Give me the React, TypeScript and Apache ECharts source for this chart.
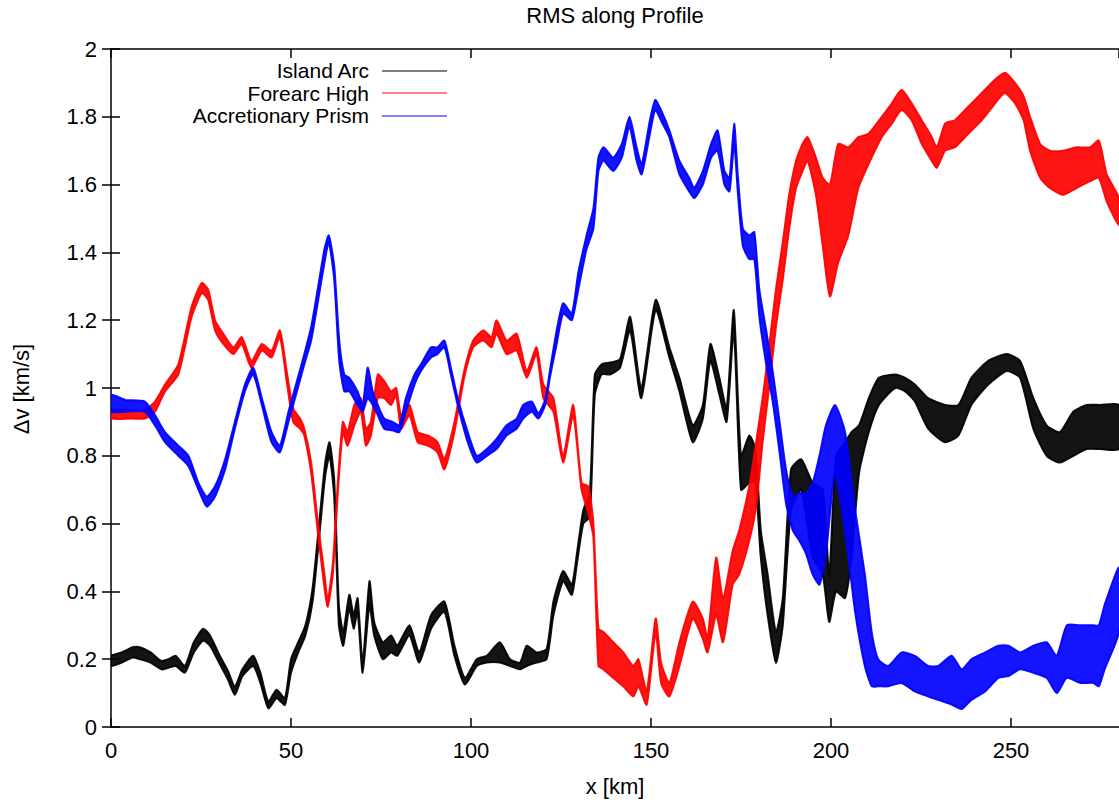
import { useEffect, useRef } from 'react';
import * as echarts from 'echarts';

// ---------- data ----------
// x positions in km, ensemble minimum and maximum of RMS (km/s)
const arcX = [0, 3, 6, 8, 11, 14, 16, 18, 20.5, 23,
  25.6, 27.5, 30, 32.5, 34.4, 36.5, 39.5, 41.5, 43.7, 46,
  48.3, 50, 52, 54, 56, 58, 59.5, 60.7, 62, 63.3,
  64.5, 66.2, 67.4, 68.5, 69.9, 71.8, 73.1, 75.5, 77.8, 79.5,
  82.9, 85.6, 88.9, 92.6, 95.4, 98.3, 101.6, 104.4, 108, 110.8,
  113.6, 115.5, 118.2, 121, 122.9, 125.6, 128, 129.4, 131.2, 133,
  134.4, 136.3, 138.6, 141.4, 144.2, 147.3, 151.3, 155.1, 157.9, 161.6,
  164.4, 166.5, 169, 171, 173, 175, 177.3, 179, 180.5, 182.4,
  184.7, 186.6, 188.9, 191.7, 194.9, 197.7, 199.5, 201.4, 203.9, 205.7,
  207.8, 210.5, 213.3, 217.8, 220.6, 223.3, 227, 231.7, 235.4, 239,
  243.7, 248.8, 252.5, 256.2, 259.9, 263.6, 267.3, 271, 274.7, 280];
const arcLo = [0.18, 0.19, 0.205, 0.2, 0.19, 0.17, 0.175, 0.18, 0.16, 0.22,
  0.255, 0.24, 0.19, 0.14, 0.095, 0.15, 0.18, 0.13, 0.055, 0.085,
  0.065, 0.16, 0.22, 0.27, 0.37, 0.58, 0.74, 0.8, 0.68, 0.3,
  0.24, 0.35, 0.29, 0.34, 0.16, 0.36, 0.27, 0.2, 0.22, 0.21,
  0.27, 0.19, 0.29, 0.34, 0.21, 0.125, 0.18, 0.19, 0.19, 0.18,
  0.17, 0.18, 0.19, 0.2, 0.33, 0.43, 0.39, 0.48, 0.6, 0.62,
  0.98, 1.04, 1.04, 1.06, 1.17, 0.97, 1.23, 1.09, 0.99, 0.84,
  0.91, 1.08, 0.98, 0.9, 1.17, 0.7, 0.72, 0.72, 0.5, 0.33,
  0.19, 0.3, 0.64, 0.7, 0.5, 0.45, 0.31, 0.4, 0.38, 0.5,
  0.75, 0.87, 0.95, 1.0, 0.99, 0.96, 0.88, 0.84, 0.86, 0.95,
  1.01, 1.05, 1.03, 0.88, 0.8, 0.78, 0.8, 0.82, 0.82, 0.82];
const arcHi = [0.21, 0.22, 0.235, 0.235, 0.22, 0.195, 0.2, 0.21, 0.18, 0.25,
  0.29, 0.27, 0.215, 0.165, 0.12, 0.17, 0.21, 0.16, 0.075, 0.11,
  0.085, 0.2, 0.25, 0.3, 0.41, 0.62, 0.78, 0.84, 0.73, 0.36,
  0.28, 0.39, 0.33, 0.38, 0.19, 0.43, 0.31, 0.25, 0.27, 0.24,
  0.3, 0.22, 0.33, 0.37, 0.24, 0.145, 0.2, 0.21, 0.25, 0.2,
  0.19, 0.24, 0.22, 0.23, 0.37, 0.46, 0.42, 0.51, 0.64, 0.69,
  1.04, 1.07, 1.075, 1.085, 1.21, 1.0, 1.26, 1.12, 1.03, 0.89,
  0.95, 1.13, 1.03, 0.94, 1.23, 0.8, 0.86, 0.82, 0.58, 0.45,
  0.28, 0.38, 0.76, 0.79, 0.72, 0.7, 0.45, 0.8, 0.84, 0.87,
  0.89, 0.97, 1.03, 1.04, 1.03, 1.01, 0.97, 0.95, 0.95, 1.03,
  1.08, 1.1, 1.08, 0.97, 0.89, 0.87, 0.93, 0.95, 0.95, 0.95];

const foreX = [0, 5.7, 9.4, 12.2, 15, 18.7, 22.4, 25.2, 27, 28.9,
  31.2, 34, 36.3, 39, 41.9, 44.6, 46.9, 48.8, 50.6, 52.5,
  53.7, 55.6, 57.4, 59.3, 60.2, 61.6, 63, 64.4, 65.7, 67.6,
  69.4, 70.8, 72.2, 74.1, 75.9, 77.8, 79.2, 80.6, 82.9, 85.2,
  88, 90.7, 92.6, 95.4, 98.1, 100.6, 103.4, 105.7, 107.1, 109.9,
  112.7, 115.5, 118.2, 120.1, 122.9, 125.6, 128.4, 130.7, 132.6, 134,
  135.4, 136.8, 139.5, 142.3, 145.1, 146.5, 148.8, 151.3, 152.8, 155.1,
  157.9, 161.6, 164.4, 165.7, 168.1, 170, 172.7, 174.5, 177.3, 179.2,
  181, 182.9, 184.7, 186.6, 188.4, 190.3, 192.1, 193.5, 195.8, 197.7,
  199.7, 202, 204.8, 207.6, 210.4, 214.1, 216.9, 219.6, 222.4, 225.2,
  228, 229.4, 231.7, 234.4, 238.1, 241.9, 245.6, 248.3, 251.1, 253.5,
  255.3, 258.1, 260.8, 264.5, 268.2, 272, 274.4, 276.6, 280];
const foreLo = [0.91, 0.91, 0.91, 0.93, 0.99, 1.04, 1.21, 1.28, 1.26, 1.17,
  1.13, 1.1, 1.13, 1.06, 1.11, 1.09, 1.15, 1.02, 0.9, 0.88,
  0.86, 0.75, 0.58, 0.41, 0.355, 0.45, 0.69, 0.87, 0.83, 0.89,
  0.93, 0.83, 0.86, 0.97, 0.97, 0.95, 0.98, 0.88, 0.92, 0.84,
  0.83, 0.81, 0.76, 0.87, 1.03, 1.12, 1.14, 1.12, 1.16, 1.1,
  1.11, 1.03, 1.1, 0.97, 0.93, 0.78, 0.92, 0.7, 0.63, 0.56,
  0.18, 0.17, 0.145, 0.12, 0.09, 0.12, 0.066, 0.28, 0.13, 0.09,
  0.18, 0.32, 0.26, 0.22, 0.33, 0.25, 0.42, 0.45, 0.55, 0.65,
  0.84, 1.01, 1.18, 1.32, 1.47, 1.59, 1.64, 1.67, 1.57, 1.42,
  1.27, 1.37, 1.45, 1.59, 1.66, 1.74, 1.78, 1.82, 1.79, 1.72,
  1.67, 1.65, 1.7, 1.71, 1.75, 1.79, 1.84, 1.87, 1.84, 1.79,
  1.7, 1.62, 1.59, 1.57, 1.59, 1.61, 1.62, 1.55, 1.48];
const foreHi = [0.935, 0.935, 0.935, 0.96, 1.01, 1.07, 1.24, 1.31, 1.29, 1.2,
  1.16, 1.12, 1.15, 1.08, 1.13, 1.11, 1.17, 1.05, 0.94, 0.91,
  0.88, 0.78, 0.61, 0.45, 0.375, 0.48, 0.72, 0.9, 0.87, 0.95,
  0.97, 0.88, 0.9, 1.04, 1.02, 0.99, 1.0, 0.92, 0.95, 0.87,
  0.86, 0.84, 0.79, 0.9, 1.05, 1.14, 1.17, 1.15, 1.2, 1.14,
  1.16, 1.05, 1.12, 1.01, 0.97, 0.8, 0.95, 0.72, 0.71, 0.6,
  0.29, 0.28, 0.25, 0.22, 0.18, 0.2, 0.105, 0.32, 0.19, 0.13,
  0.25, 0.37, 0.32, 0.26, 0.5, 0.38, 0.52, 0.58, 0.71, 0.84,
  0.97, 1.13, 1.29, 1.43, 1.57, 1.67, 1.72, 1.74, 1.68, 1.62,
  1.6, 1.72, 1.71, 1.74, 1.75, 1.8, 1.84, 1.88, 1.84, 1.79,
  1.74, 1.71, 1.78, 1.79, 1.83, 1.87, 1.91, 1.93, 1.9, 1.86,
  1.8, 1.72, 1.7, 1.7, 1.71, 1.71, 1.73, 1.63, 1.56];

const prismX = [0, 3.9, 9.4, 12.2, 15, 18.7, 21.5, 24.3, 26.6, 28.9,
  31.7, 34.4, 37.2, 39.5, 41.9, 44.6, 46.9, 49.3, 51.9, 53.7,
  55.6, 57.4, 59.3, 60.5, 62, 63.4, 64.8, 66.2, 68.5, 69.9,
  71.3, 72.7, 74.1, 75.9, 78.2, 80.1, 81.9, 84.3, 86.1, 88.9,
  90.7, 92.6, 94.4, 96.3, 99.1, 101.6, 104.4, 107.1, 109.9, 112.7,
  114.5, 116.9, 118.7, 120.6, 121.9, 123.8, 125.6, 128, 129.8, 132.1,
  134, 135.4, 136.8, 139.5, 141.9, 144, 146, 147.4, 149.7, 151.2,
  153.2, 155.1, 157.9, 160.6, 162, 164.4, 166.7, 168.5, 170.4, 171.8,
  173.1, 174.1, 175.5, 177.3, 178.7, 180.1, 182, 183.8, 185.6, 187.5,
  189.4, 191.2, 193.1, 194.9, 196.8, 198.6, 201.1, 203.9, 206.7, 209.4,
  211.3, 213.1, 215.9, 219.6, 223.3, 227, 229.8, 233.5, 236.3, 239,
  242.8, 246.5, 249.3, 252.5, 256.2, 259.9, 262.7, 265.5, 269.2, 272.9,
  274.4, 276, 280];
const prismLo = [0.93, 0.93, 0.93, 0.89, 0.84, 0.8, 0.77, 0.7, 0.65, 0.68,
  0.76, 0.88, 0.99, 1.04, 0.95, 0.84, 0.81, 0.9, 1.0, 1.07,
  1.14, 1.25, 1.37, 1.43, 1.32, 1.08, 0.99, 0.99, 0.95, 0.93,
  0.97, 0.95, 0.92, 0.88, 0.875, 0.87, 0.93, 1.01, 1.05, 1.09,
  1.1, 1.12, 1.04, 0.95, 0.84, 0.78, 0.8, 0.82, 0.86, 0.88,
  0.91, 0.93, 0.91, 0.95, 1.03, 1.13, 1.22, 1.2, 1.29, 1.41,
  1.47, 1.64, 1.67, 1.64, 1.68, 1.77, 1.67, 1.63, 1.75, 1.82,
  1.78, 1.74, 1.63, 1.58, 1.56, 1.6, 1.68, 1.7, 1.6, 1.58,
  1.72, 1.58, 1.42, 1.38, 1.38, 1.21, 1.07, 0.96, 0.82, 0.66,
  0.58, 0.55, 0.51, 0.45, 0.42, 0.51, 0.75, 0.58, 0.34, 0.18,
  0.12, 0.12, 0.12, 0.13, 0.105, 0.09, 0.08, 0.066, 0.053, 0.08,
  0.105, 0.145, 0.15, 0.17, 0.16, 0.145, 0.1, 0.145, 0.13, 0.13,
  0.12, 0.17, 0.28];
const prismHi = [0.98, 0.965, 0.96, 0.92, 0.87, 0.83, 0.8, 0.72, 0.68, 0.71,
  0.79, 0.9, 1.01, 1.06, 0.97, 0.87, 0.83, 0.93, 1.03, 1.1,
  1.18, 1.29, 1.41, 1.45, 1.36, 1.14, 1.04, 1.03, 0.99, 0.95,
  1.06, 0.99, 0.95, 0.91, 0.9, 0.89, 0.97, 1.04, 1.07, 1.12,
  1.12, 1.14, 1.06, 0.97, 0.87, 0.8, 0.82, 0.85, 0.89, 0.91,
  0.95, 0.96, 0.925, 0.965, 1.05, 1.17, 1.25, 1.22, 1.34, 1.45,
  1.53, 1.68, 1.71, 1.68, 1.72, 1.8, 1.71, 1.66, 1.79, 1.85,
  1.81, 1.76, 1.67, 1.62, 1.59, 1.64, 1.72, 1.76, 1.64, 1.62,
  1.78, 1.63, 1.47, 1.45, 1.46, 1.29, 1.17, 1.05, 0.91, 0.76,
  0.68, 0.69, 0.69, 0.72, 0.8, 0.89, 0.95, 0.87, 0.64, 0.45,
  0.28, 0.2, 0.18, 0.22, 0.21, 0.18, 0.18, 0.21, 0.17, 0.2,
  0.22, 0.24, 0.24, 0.22, 0.24, 0.25, 0.21, 0.3, 0.3, 0.3,
  0.3, 0.36, 0.47];

const seriesNames = ['Island Arc', 'Forearc High', 'Accretionary Prism'];
const seriesColors = ['#000000', '#ff0000', '#0000ff'];
const xTicks = [0, 50, 100, 150, 200, 250];

const FONT = '"Liberation Sans", Arial, Helvetica, sans-serif';

// A band (envelope of the ensemble) drawn as one polygon through the axes' scales.
function band(name: string, color: string, xs: number[], lo: number[], hi: number[]) {
  return {
    type: 'custom',
    name,
    coordinateSystem: 'cartesian2d',
    silent: true,
    clip: true,
    data: xs.map((x, i) => [x, lo[i], hi[i]]),
    encode: { x: 0, y: [1, 2] },
    renderItem: (params: any, api: any) => {
      if (params.dataIndex !== 0) return null;
      const upper = xs.map((x, i) => api.coord([x, hi[i]]));
      const lower = xs.map((x, i) => api.coord([x, lo[i]])).reverse();
      const cs = params.coordSys;
      return {
        type: 'group',
        clipPath: { type: 'rect', shape: { x: cs.x, y: cs.y, width: cs.width, height: cs.height } },
        children: [
          {
            type: 'polygon',
            shape: { points: upper.concat(lower), smooth: 0.2 },
            style: { fill: color, stroke: color, lineWidth: 2, lineJoin: 'round', opacity: 0.92 },
          },
        ],
      };
    },
  };
}

export default function App() {
  const ref = useRef<HTMLDivElement>(null);
  useEffect(() => {
    if (!ref.current) return;
    const chart = echarts.init(ref.current, undefined, { renderer: 'svg' });
    const axisLine = { show: true, onZero: false, lineStyle: { color: '#000', width: 1.5 } };
    const tick = { show: true, inside: true, length: 9, lineStyle: { color: '#000', width: 1.5 } };
    const labelStyle = { color: '#000', fontSize: 22, fontFamily: FONT };
    const legendRows = [70.5, 93, 115.5];
    const legendLineRows = [71, 93, 116];
    const option = {
      animation: false,
      grid: { left: 111, top: 49, width: 1008, height: 678, containLabel: false },
      xAxis: [
        {
          type: 'value', min: 0, max: 280, interval: 50, position: 'bottom',
          axisLine, axisTick: tick, splitLine: { show: false },
          axisLabel: {
            ...labelStyle, margin: 12, showMaxLabel: false,
            formatter: (v: number) => (xTicks.includes(v) ? String(v) : ''),
          },
        },
        {
          type: 'value', min: 0, max: 280, interval: 50, position: 'top',
          axisLine, axisTick: tick, splitLine: { show: false }, axisLabel: { show: false },
        },
      ],
      yAxis: [
        {
          type: 'value', min: 0, max: 2, interval: 0.2, position: 'left',
          axisLine, axisTick: tick, splitLine: { show: false },
          axisLabel: { ...labelStyle, margin: 14 },
        },
        {
          type: 'value', min: 0, max: 2, interval: 0.2, position: 'right',
          axisLine: { show: false }, axisTick: tick, splitLine: { show: false }, axisLabel: { show: false },
        },
      ],
      series: [
        band(seriesNames[0], seriesColors[0], arcX, arcLo, arcHi),
        band(seriesNames[1], seriesColors[1], foreX, foreLo, foreHi),
        band(seriesNames[2], seriesColors[2], prismX, prismLo, prismHi),
      ],
      graphic: [
        {
          type: 'text', x: 615, y: 15, z: 100,
          style: { text: 'RMS along Profile', fill: '#000', fontSize: 22, fontFamily: FONT, textAlign: 'center', textVerticalAlign: 'middle' },
        },
        {
          type: 'text', x: 615, y: 786, z: 100,
          style: { text: 'x [km]', fill: '#000', fontSize: 22, fontFamily: FONT, textAlign: 'center', textVerticalAlign: 'middle' },
        },
        {
          type: 'text', x: 21, y: 389, rotation: Math.PI / 2, z: 100,
          style: { text: 'Δv [km/s]', fill: '#000', fontSize: 22, fontFamily: FONT, textAlign: 'center', textVerticalAlign: 'middle' },
        },
        ...seriesNames.map((n, i) => ({
          type: 'text', x: 369, y: legendRows[i], z: 100,
          style: { text: n, fill: '#000', fontSize: 21, lineHeight: 20, fontFamily: FONT, textAlign: 'right', textVerticalAlign: 'middle' },
        })),
        ...seriesNames.map((n, i) => ({
          type: 'line', z: 100,
          shape: { x1: 382, y1: legendLineRows[i], x2: 447, y2: legendLineRows[i] },
          style: { stroke: seriesColors[i], lineWidth: 1.2 },
        })),
      ],
    };
    chart.setOption(option as any);
    return () => chart.dispose();
  }, []);
  return (
    <div
      ref={ref}
      style={{ position: 'fixed', left: 0, top: 0, width: 1119, height: 802, background: '#fff' }}
    />
  );
}
